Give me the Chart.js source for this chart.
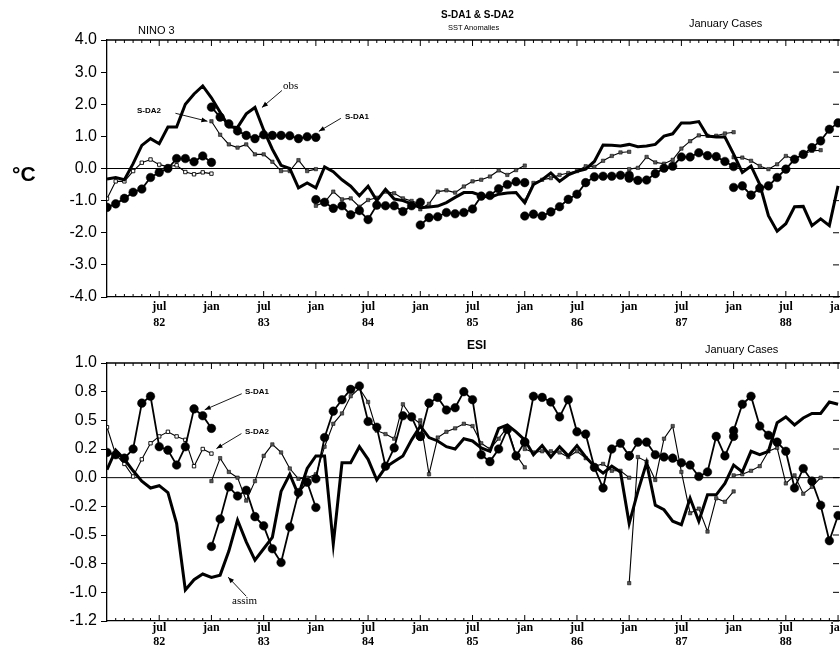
<!DOCTYPE html>
<html><head><meta charset="utf-8">
<script src="https://cdn.jsdelivr.net/npm/chart.js@4.4.1/dist/chart.umd.min.js"></script>
<style>
html,body{margin:0;padding:0;background:#fff;}
body{width:840px;height:647px;overflow:hidden;position:relative;font-family:"Liberation Sans",Arial,sans-serif;color:#000;}
canvas{position:absolute;left:0;}
.t{position:absolute;white-space:nowrap;line-height:1;color:#000;}
.s{font-family:"Liberation Sans",Arial,sans-serif;}
.b{font-weight:bold;}
.r{font-family:"Liberation Serif","Times New Roman",serif;}
</style></head><body>
<canvas id="c1" width="846" height="333" style="top:0px"></canvas>
<canvas id="c2" width="846" height="314" style="top:333px"></canvas>

<div class="t s" style="left:138px;top:25px;font-size:11px;">NINO 3</div>
<div class="t s b" style="left:441px;top:10px;font-size:10px;">S-DA1 &amp; S-DA2</div>
<div class="t s" style="left:448px;top:24px;font-size:7.5px;">SST Anomalies</div>
<div class="t s" style="left:689px;top:18px;font-size:11px;">January Cases</div>
<div class="t s b" style="left:12px;top:163px;font-size:21px;">°C</div>
<div class="t r" style="left:283px;top:80px;font-size:11px;">obs</div>
<div class="t s b" style="left:137px;top:107px;font-size:8px;">S-DA2</div>
<div class="t s b" style="left:345px;top:113px;font-size:8px;">S-DA1</div>

<div class="t s b" style="left:467px;top:339px;font-size:12px;">ESI</div>
<div class="t s" style="left:705px;top:344px;font-size:11px;">January Cases</div>
<div class="t s b" style="left:245px;top:388px;font-size:8px;">S-DA1</div>
<div class="t s b" style="left:245px;top:428px;font-size:8px;">S-DA2</div>
<div class="t r" style="left:232px;top:595px;font-size:11px;">assim</div>

<script>
// ---------------- DATA (monthly, month 0 = Jan 1982) ----------------
const segStarts = [0, 12, 24, 36, 48, 60, 72];          // January forecast starts
const monthTicks = [6, 12, 18, 24, 30, 36, 42, 48, 54, 60, 66, 72, 78, 84];
const yearLabels = ['82', '83', '84', '85', '86', '87', '88'];

const nino3TickValues = [4, 3, 2, 1, 0, -1, -2, -3, -4];
const nino3TickLabels = ['4.0', '3.0', '2.0', '1.0', '0.0', '-1.0', '-2.0', '-3.0', '-4.0'];
const esiTickValues = [1, 0.75, 0.5, 0.25, 0, -0.25, -0.5, -0.75, -1, -1.25];
const esiTickLabels = ['1.0', '0.8', '0.5', '0.2', '0.0', '-0.2', '-0.5', '-0.8', '-1.0', '-1.2'];

// NINO 3 SST anomalies, observed
const nino3Obs = [-0.33,-0.28,-0.35,0.15,0.72,0.93,0.77,1.29,1.29,2.0,
  2.32,2.57,2.2,1.75,1.3,1.28,1.7,1.9,1.2,0.6,
  0.1,0.0,-0.6,-0.45,-0.6,0.05,-0.1,-0.35,-0.55,-0.85,
  -0.55,-1.0,-0.65,-0.95,-1.0,-1.1,-1.22,-1.2,-1.17,-1.06,
  -0.9,-0.75,-0.75,-0.84,-0.9,-0.8,-0.76,-0.75,-1.07,-0.5,
  -0.35,-0.14,-0.4,-0.2,-0.09,-0.02,0.22,0.73,0.72,0.7,
  0.75,0.68,0.7,0.75,1.01,1.08,1.42,1.42,1.46,1.01,
  0.98,0.98,0.45,-0.12,0.08,-0.49,-1.47,-1.95,-1.72,-1.19,
  -1.18,-1.78,-1.57,-1.78,-0.54];
// NINO 3 S-DA1 forecasts (one segment per January start)
const nino3Sda1 = [
  [-1.21,-1.10,-0.93,-0.74,-0.64,-0.28,-0.12,0.0,0.31,0.31,0.21,0.39,0.19],
  [1.91,1.6,1.39,1.17,1.03,0.93,1.05,1.03,1.03,1.02,0.93,0.99,0.97],
  [-0.97,-1.05,-1.24,-1.16,-1.44,-1.31,-1.59,-1.14,-1.16,-1.16,-1.34,-1.16,-1.05],
  [-1.76,-1.53,-1.50,-1.37,-1.41,-1.37,-1.26,-0.86,-0.84,-0.63,-0.50,-0.41,-0.44],
  [-1.48,-1.42,-1.48,-1.35,-1.19,-0.96,-0.80,-0.44,-0.26,-0.24,-0.24,-0.21,-0.21],
  [-0.30,-0.37,-0.36,-0.16,0.01,0.07,0.36,0.36,0.49,0.40,0.37,0.22,0.06],
  [-0.59,-0.54,-0.83,-0.61,-0.54,-0.28,-0.02,0.29,0.44,0.65,0.86,1.22,1.42]
];
// NINO 3 S-DA2 forecasts
const nino3Sda2 = [
  [-0.94,-0.40,-0.40,-0.08,0.18,0.28,0.12,0.06,0.10,-0.11,-0.18,-0.12,-0.16],
  [1.47,1.05,0.75,0.65,0.75,0.44,0.44,0.21,-0.08,-0.08,0.26,-0.08,-0.02],
  [-1.16,-1.05,-0.72,-0.96,-0.93,-1.19,-0.98,-0.91,-0.72,-0.77,-0.93,-1.01,-1.1],
  [-1.27,-1.1,-0.72,-0.68,-0.75,-0.56,-0.40,-0.35,-0.25,-0.06,-0.20,-0.05,0.09],
  [-1.0,-0.45,-0.35,-0.3,-0.2,-0.14,-0.08,0.07,0.05,0.24,0.39,0.5,0.52],
  [-0.02,0.02,0.36,0.19,0.15,0.27,0.62,0.85,1.03,1.02,1.02,1.09,1.13],
  [0.35,0.34,0.24,0.08,-0.02,0.13,0.39,0.29,0.44,0.55,0.57]
];

// ESI, assimilation
const esiAssim = [0.07,0.24,0.16,0.06,-0.03,-0.09,-0.07,-0.13,-0.40,-0.98,
  -0.89,-0.84,-0.87,-0.85,-0.64,-0.37,-0.56,-0.72,-0.62,-0.52,
  -0.12,0.03,-0.15,0.08,0.19,0.19,-0.58,0.13,0.13,0.27,
  0.16,-0.02,0.09,0.14,0.19,0.33,0.45,0.35,0.32,0.27,
  0.25,0.34,0.32,0.26,0.23,0.43,0.46,0.40,0.33,0.20,
  0.28,0.18,0.27,0.19,0.28,0.18,0.10,0.04,0.10,0.05,
  -0.40,-0.12,0.13,-0.24,-0.28,-0.38,-0.41,-0.18,-0.38,-0.15,
  -0.15,-0.05,0.11,0.05,0.23,0.20,0.23,0.48,0.53,0.46,
  0.52,0.56,0.56,0.66,0.64];
const esiSda1 = [
  [0.22,0.20,0.17,0.25,0.65,0.71,0.27,0.24,0.11,0.27,0.60,0.54,0.43],
  [-0.60,-0.36,-0.08,-0.16,-0.11,-0.34,-0.42,-0.62,-0.74,-0.43,-0.13,-0.04,-0.26],
  [-0.01,0.35,0.58,0.68,0.77,0.80,0.49,0.44,0.10,0.26,0.54,0.53,0.36],
  [0.36,0.65,0.70,0.59,0.61,0.75,0.68,0.20,0.14,0.25,0.42,0.19,0.31],
  [0.31,0.71,0.70,0.66,0.53,0.68,0.40,0.38,0.09,-0.09,0.25,0.30,0.19],
  [0.19,0.31,0.31,0.20,0.18,0.17,0.13,0.11,0.01,0.05,0.36,0.19,0.36],
  [0.41,0.64,0.71,0.45,0.37,0.31,0.23,-0.09,0.08,-0.03,-0.24,-0.55,-0.33]
];
const esiSda2 = [
  [0.44,0.20,0.12,0.01,0.16,0.30,0.36,0.40,0.36,0.33,0.10,0.25,0.21],
  [-0.03,0.17,0.05,0.0,-0.20,-0.03,0.19,0.29,0.22,0.08,-0.01,0.0,0.03],
  [0.02,0.27,0.47,0.56,0.71,0.78,0.66,0.41,0.38,0.34,0.64,0.53,0.47],
  [0.50,0.03,0.35,0.40,0.43,0.47,0.45,0.30,0.25,0.34,0.44,0.20,0.09],
  [0.25,0.22,0.23,0.23,0.22,0.18,0.23,0.17,0.10,0.12,0.06,0.06,0.0],
  [-0.92,0.18,0.14,-0.02,0.34,0.45,0.05,-0.31,-0.27,-0.47,-0.18,-0.21,-0.12],
  [0.02,0.03,0.06,0.10,0.23,0.26,-0.05,0.02,-0.14,-0.08,0.0]
];

// ---------------- BUILDING ----------------
function pts(vals, start) { return vals.map((v, i) => ({ x: start + i, y: v })); }

function makeDatasets(obs, sda1, sda2, obsLabel) {
  const ds = [];
  sda1.forEach((seg, k) => ds.push({
    label: 'sda1-' + k, data: pts(seg, segStarts[k]),
    borderColor: '#000', borderWidth: 1.8,
    pointRadius: 4.3, pointStyle: 'circle',
    pointBackgroundColor: '#000', pointBorderColor: '#000', pointBorderWidth: 0.5
  }));
  ds.push({ label: obsLabel, data: pts(obs, 0), borderColor: '#000', borderWidth: 3, pointRadius: 0 });
  sda2.forEach((seg, k) => ds.push({
    label: 'sda2-' + k, data: pts(seg, segStarts[k]),
    borderColor: '#000', borderWidth: 1.1,
    pointRadius: 2.4, pointStyle: 'rect',
    pointBackgroundColor: k === 0 ? '#fff' : '#555', pointBorderColor: '#000',
    pointBorderWidth: k === 0 ? 0.9 : 0.5
  }));
  return ds;
}

function xLabel(v) {
  if (v % 12 === 6) return ['jul', yearLabels[(v - 6) / 12]];
  return 'jan';
}

const deco = {
  id: 'deco',
  beforeDatasetsDraw(chart, args, opts) {
    const { ctx, chartArea: a, scales: { x, y } } = chart;
    ctx.save();
    ctx.strokeStyle = '#000';
    // zero reference line
    ctx.lineWidth = 1;
    const y0 = y.getPixelForValue(0);
    ctx.beginPath(); ctx.moveTo(a.left, y0); ctx.lineTo(a.right, y0); ctx.stroke();
    // top frame
    ctx.lineWidth = 1.3;
    ctx.beginPath(); ctx.moveTo(a.left, a.top); ctx.lineTo(a.right, a.top); ctx.stroke();
    // monthly ticks inward on top and bottom frames
    ctx.lineWidth = 1;
    ctx.beginPath();
    for (let m = 1; m <= 84; m++) {
      const px = x.getPixelForValue(m);
      const L = (m % 6 === 0) ? 6 : 3;
      ctx.moveTo(px, a.top); ctx.lineTo(px, a.top + L);
      ctx.moveTo(px, a.bottom); ctx.lineTo(px, a.bottom - L);
    }
    // right edge ticks (placed at the visible page edge)
    const rx = Math.min(a.right, 839);
    opts.tv.forEach(v => {
      const py = y.getPixelForValue(v);
      ctx.moveTo(rx - 6, py); ctx.lineTo(rx, py);
    });
    ctx.stroke();
    ctx.restore();
  },
  afterDatasetsDraw(chart, args, opts) {
    const ctx = chart.ctx;
    ctx.save();
    ctx.strokeStyle = '#000'; ctx.fillStyle = '#000'; ctx.lineWidth = 0.9;
    (opts.arrows || []).forEach(ar => {
      const di = chart.data.datasets.findIndex(d => d.label === ar.label);
      const el = chart.getDatasetMeta(di).data[ar.idx];
      const tx = el.x + ar.dx, ty = el.y + ar.dy;
      const sx = tx + ar.tx, sy = ty + ar.ty;
      ctx.beginPath(); ctx.moveTo(sx, sy); ctx.lineTo(tx, ty); ctx.stroke();
      const ang = Math.atan2(ty - sy, tx - sx), L = 6, W = 2.4;
      ctx.beginPath();
      ctx.moveTo(tx, ty);
      ctx.lineTo(tx - L * Math.cos(ang) + W * Math.sin(ang), ty - L * Math.sin(ang) - W * Math.cos(ang));
      ctx.lineTo(tx - L * Math.cos(ang) - W * Math.sin(ang), ty - L * Math.sin(ang) + W * Math.cos(ang));
      ctx.closePath(); ctx.fill();
    });
    ctx.restore();
  }
};

function makeOptions(cfg) {
  return {
    responsive: false, animation: false, events: [],
    layout: { padding: { top: cfg.top, left: 0, right: 0, bottom: 0 } },
    elements: { line: { tension: 0 } },
    plugins: {
      legend: { display: false }, tooltip: { enabled: false },
      deco: { tv: cfg.tv, arrows: cfg.arrows }
    },
    scales: {
      x: {
        type: 'linear', min: 0, max: 84.35,
        afterBuildTicks: s => { s.ticks = monthTicks.map(v => ({ value: v })); },
        afterFit: s => { s.height = cfg.xh; s.paddingLeft = 0; s.paddingRight = 0; },
        ticks: {
          autoSkip: false, maxRotation: 0, minRotation: 0, padding: cfg.xpad, color: '#000',
          font: { family: '"Liberation Serif","Times New Roman",serif', size: 12, weight: 'bold', lineHeight: cfg.lh },
          callback: v => xLabel(v)
        },
        grid: { drawOnChartArea: false, drawTicks: false },
        border: { display: true, color: '#000', width: 1.3 }
      },
      y: {
        type: 'linear', min: cfg.ymin, max: cfg.ymax,
        afterBuildTicks: s => { s.ticks = cfg.tv.map(v => ({ value: v })); },
        afterFit: s => { s.width = 107; s.paddingTop = 0; s.paddingBottom = 0; },
        ticks: {
          autoSkip: false, padding: 4, color: '#000',
          font: { family: '"Liberation Sans",Arial,sans-serif', size: 16 },
          callback: v => { const i = cfg.tv.findIndex(t => Math.abs(t - v) < 1e-6); return i >= 0 ? cfg.tl[i] : ''; }
        },
        grid: { drawOnChartArea: false, drawTicks: true, tickLength: 6, tickColor: '#000', tickWidth: 1 },
        border: { display: true, color: '#000', width: 1.3 }
      }
    }
  };
}

new Chart(document.getElementById('c1'), {
  type: 'line',
  data: { datasets: makeDatasets(nino3Obs, nino3Sda1, nino3Sda2, 'obs') },
  options: makeOptions({
    top: 40, xh: 36, xpad: 2, lh: 1.34, ymin: -4, ymax: 4,
    tv: nino3TickValues, tl: nino3TickLabels,
    arrows: [
      { label: 'obs', idx: 17, dx: 7, dy: 0, tx: 20, ty: -17 },
      { label: 'sda2-1', idx: 0, dx: -4, dy: 0, tx: -32, ty: -8 },
      { label: 'sda1-1', idx: 12, dx: 3, dy: -6, tx: 22, ty: -13 }
    ]
  }),
  plugins: [deco]
});

new Chart(document.getElementById('c2'), {
  type: 'line',
  data: { datasets: makeDatasets(esiAssim, esiSda1, esiSda2, 'assim') },
  options: makeOptions({
    top: 30, xh: 26, xpad: 0, lh: 1.17, ymin: -1.25, ymax: 1.0,
    tv: esiTickValues, tl: esiTickLabels,
    arrows: [
      { label: 'sda1-0', idx: 11, dx: 2, dy: -6, tx: 37, ty: -16 },
      { label: 'sda2-0', idx: 12, dx: 5, dy: -5, tx: 25, ty: -15 },
      { label: 'assim', idx: 13, dx: 8, dy: 2, tx: 18, ty: 19 }
    ]
  }),
  plugins: [deco]
});
</script>
</body></html>
